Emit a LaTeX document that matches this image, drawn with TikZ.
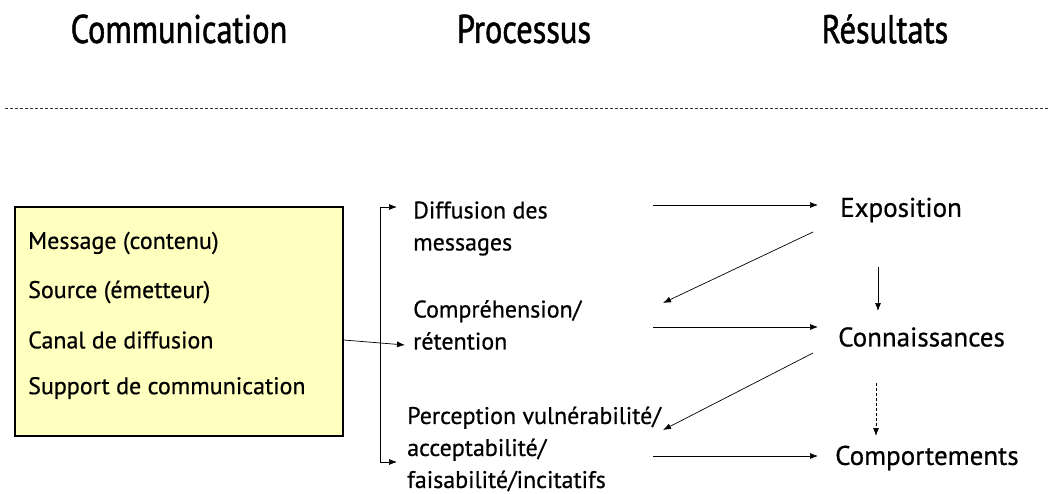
\documentclass[tikz,border=0pt]{standalone}
\usepackage{fontspec}
\setmainfont[FakeBold=0.6]{PT Sans}
\newfontfamily\headfont[FakeStretch=0.81,FakeBold=1.2]{PT Sans}
\usetikzlibrary{arrows.meta}
\definecolor{boxfill}{RGB}{255,255,192}
\begin{document}
\begin{tikzpicture}[x=1pt,y=-1pt,
  head/.style={font=\headfont\fontsize{40}{44}\selectfont, inner sep=0pt},
  body/.style={font=\fontsize{24}{32}\selectfont, inner sep=0pt, anchor=west, align=left},
  res/.style={font=\fontsize{27}{30}\selectfont, inner sep=0pt, anchor=west},
  arr/.style={-{Latex[length=8pt,width=6pt]}, line width=0.7pt},
]
\useasboundingbox (0,0) rectangle (1048,494);
% headers
\node[head] (h1) at (179,29) {Communication};
\node[head] (h2) at (524,29) {Processus};
\node[head] (h3) at (885,29) {Résultats};
\coordinate (dl) at (5,108);
\coordinate (dr) at (1048,108);
\draw[dash pattern=on 3pt off 2pt, line width=0.8pt, black!80] (dl) -- (dr);
% box
\node[draw, line width=1.1pt, fill=boxfill, minimum width=328pt, minimum height=229pt, inner sep=0pt] (box) at (179,321.5) {};
\node[body] (m1) at (28,243) {Message (contenu)};
\node[body] (m2) at (28,292) {Source (émetteur)};
\node[body] (m3) at (28,340) {Canal de diffusion};
\node[body] (m4) at (28,388) {Support de communication};
% process
\node[body] (p1) at (413,228.5) {Diffusion des\\messages};
\node[body] (p2) at (413,325) {Compréhension/\\rétention};
\node[body] (p3) at (407,449) {Perception vulnérabilité/\\acceptabilité/\\faisabilité/incitatifs};
% results
\node[res] (r1) at (840,210) {Exposition};
\node[res] (r2) at (838,337) {Connaissances};
\node[res] (r3) at (835,458) {Comportements};
% bracket
\coordinate (bt) at (380,207);
\coordinate (bb) at (380,462);
\coordinate (ta) at (397,207);
\coordinate (ba) at (397,462);
\coordinate (bi) at (405,345);
\draw[line width=0.7pt] (bt) -- (bb);
\draw[arr] (bt) -- (ta);
\draw[arr] (bb) -- (ba);
\draw[arr] (m3 -| box.east) -- (bi);
% horizontal arrows
\coordinate (s1) at (653,205); \coordinate (e1) at (818,205);
\coordinate (s2) at (653,327); \coordinate (e2) at (818,327);
\coordinate (s3) at (653,456); \coordinate (e3) at (818,456);
\draw[arr] (s1) -- (e1);
\draw[arr] (s2) -- (e2);
\draw[arr] (s3) -- (e3);
% diagonals
\coordinate (d1s) at (813,232); \coordinate (d1e) at (663,303);
\coordinate (d2s) at (813,353); \coordinate (d2e) at (663,430);
\draw[arr] (d1s) -- (d1e);
\draw[arr] (d2s) -- (d2e);
% verticals
\coordinate (v1s) at (878,267); \coordinate (v1e) at (878,311);
\coordinate (v2s) at (876,383); \coordinate (v2e) at (876,436);
\draw[arr] (v1s) -- (v1e);
\draw[arr, dash pattern=on 3pt off 2pt] (v2s) -- (v2e);
\end{tikzpicture}
\end{document}
